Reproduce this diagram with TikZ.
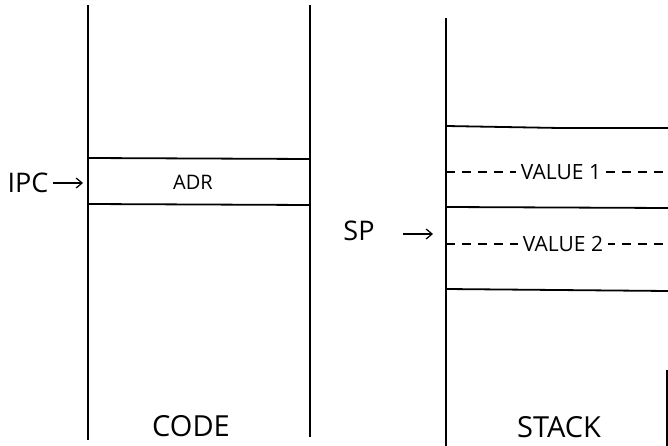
\documentclass[tikz,border=0pt]{standalone}
\usepackage{fontspec}
\setmainfont{Open Sans}
\usetikzlibrary{arrows.meta}
\tikzset{
  wall/.style={line width=1.6pt},
  rule/.style={line width=1.8pt},
  dashrule/.style={line width=1.3pt, dash pattern=on 9pt off 7pt},
  ptr/.style={line width=1.2pt, -{Straight Barb[length=6pt,width=10pt,line width=1.2pt]}},
  lbl/.style={inner sep=1pt, font=\fontsize{27}{27}\selectfont},
  big/.style={inner sep=1pt, font=\fontsize{29}{29}\selectfont},
  cell/.style={inner sep=2pt, font=\fontsize{20}{20}\selectfont},
  val/.style={inner sep=5pt, fill=white, font=\fontsize{21}{21}\selectfont}
}
\begin{document}
\begin{tikzpicture}[x=1pt,y=-1pt]
\useasboundingbox (0,0) rectangle (668,446);
% code column walls
\draw[wall] (88,5) -- (88,440);
\draw[wall] (310,5) -- (310,437);
% stack column walls
\draw[wall] (446,18) -- (446,446);
\draw[wall] (667,370) -- (667,446);
% code cell
\draw[rule] (88,158) -- (310,159);
\draw[rule] (88,204) -- (310,205);
\node[cell] (adr) at (193,182) {ADR};
% stack cells
\draw[rule] (446,126) -- (560,128) -- (668,128);
\draw[rule] (446,207) -- (668,208);
\draw[rule] (446,289) -- (668,291);
\draw[dashrule] (446,172) -- (668,172);
\draw[dashrule] (446,244) -- (668,244);
\node[val] (v1) at (561,172) {VALUE 1};
\node[val] (v2) at (563,244) {VALUE 2};
% pointers
\node[lbl] (ipc) at (28,183) {IPC};
\coordinate (ipcend) at (83,183);
\draw[ptr] (ipc.east) ++(3,0) coordinate (ipcstart) (ipcstart) -- (ipcend);
\node[lbl] (sp) at (359,231) {SP};
\coordinate (spstart) at (403,234);
\coordinate (spend) at (433,234);
\draw[ptr] (spstart) -- (spend);
% column labels
\node[big] (code) at (191,426) {CODE};
\node[big] (stack) at (559,427) {STACK};
\end{tikzpicture}
\end{document}
